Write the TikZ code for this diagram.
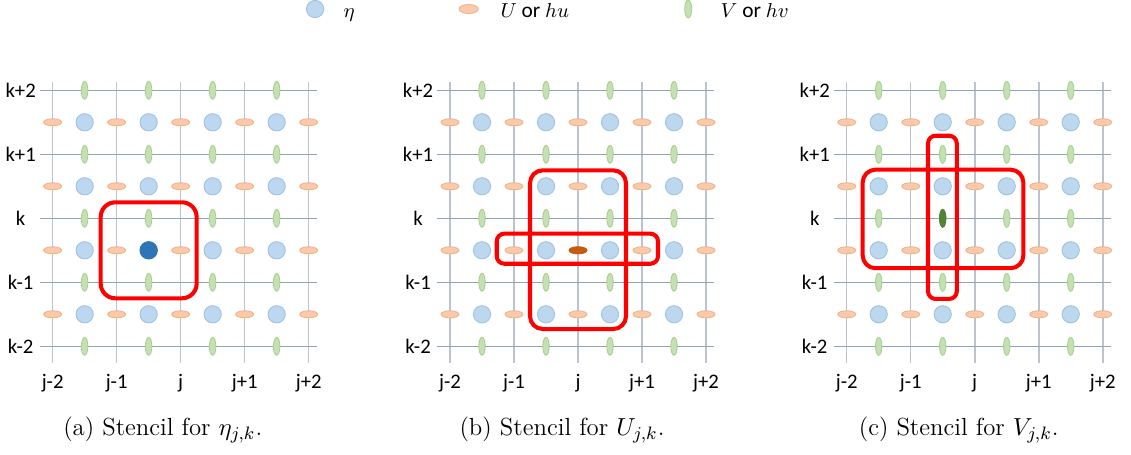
\documentclass[tikz,border=0pt]{standalone}
\usepackage{fontspec}
\newfontfamily\labfont{Carlito}
\definecolor{EtaFill}{HTML}{BDD7EE}
\definecolor{EtaLine}{HTML}{9DC3E6}
\definecolor{EtaDark}{HTML}{2E75B6}
\definecolor{UFill}{HTML}{F8CBAD}
\definecolor{ULine}{HTML}{F4B183}
\definecolor{UDark}{HTML}{C55A11}
\definecolor{VFill}{HTML}{C5E0B4}
\definecolor{VLine}{HTML}{A9D18E}
\definecolor{VDark}{HTML}{548235}
\definecolor{GridV}{HTML}{BCC3CC}
\definecolor{GridH}{HTML}{8FA3BA}
\definecolor{StencilRed}{HTML}{FF0000}
\tikzset{
  etapt/.style={draw=EtaLine, fill=EtaFill, line width=0.4pt},
  upt/.style={draw=ULine, fill=UFill, line width=0.4pt},
  vpt/.style={draw=VLine, fill=VFill, line width=0.4pt},
  gridv/.style={line width=0.7pt, draw=GridV},
  gridh/.style={line width=0.5pt, draw=GridH},
  stencil/.style={line width=1.8pt, draw=StencilRed, rounded corners=2mm},
  idx/.style={font=\labfont\fontsize{9.2}{10}\selectfont, inner sep=0pt},
  capt/.style={font=\fontsize{11}{13}\selectfont, anchor=base, inner sep=0pt},
  leg/.style={font=\labfont\fontsize{9.5}{11}\selectfont, anchor=base west, inner sep=0pt},
}
% staggered grid: eta at cell centres, U on j-lines, V on k-lines
\newcommand{\stencilgrid}[1]{%
  \foreach \x in {0,...,4} {\draw[gridv] (\x,-0.26) -- (\x,4.13);}
  \foreach \y in {0,...,4} {\draw[gridh] (-0.2,\y) -- (4.13,\y);}
  \foreach \x in {0.5,1.5,2.5,3.5} \foreach \y in {0.5,1.5,2.5,3.5} {\draw[etapt] (\x,\y) circle (0.135);}
  \foreach \x in {0,...,4} \foreach \y in {0.5,1.5,2.5,3.5} {\draw[upt] (\x,\y) ellipse (0.14 and 0.055);}
  \foreach \x in {0.5,1.5,2.5,3.5} \foreach \y in {0,...,4} {\draw[vpt] (\x,\y) ellipse (0.05 and 0.14);}
  \foreach \t [count=\i from 0] in {k-2,k-1,k,k+1,k+2} {\node[idx] (#1-k\i) at (-0.5,\i) {\t};}
  \foreach \t [count=\i from 0] in {j-2,j-1,j,j+1,j+2} {\node[idx] (#1-j\i) at (\i,-0.58) {\t};}
}
\begin{document}
\begin{tikzpicture}
\useasboundingbox (-0.823,-1.698) rectangle (16.848,5.411);
% ---------------------------------------------------------------- legend
\draw[etapt] (4.10,5.27) circle (0.135);
\node[leg] (leg-eta) at (4.54,5.13) {$\eta$};
\draw[upt] (6.50,5.27) ellipse (0.15 and 0.07);
\node[leg] (leg-u) at (6.99,5.13) {$U$ or $hu$};
\draw[vpt] (9.93,5.27) ellipse (0.055 and 0.14);
\node[leg] (leg-v) at (10.43,5.13) {$V$ or $hv$};
% ---------------------------------------------------------------- panel (a): eta
\begin{scope}[shift={(0,0)}]
  \stencilgrid{a}
  \draw[etapt, draw=EtaDark, fill=EtaDark] (1.5,1.5) circle (0.135);
  \draw[stencil, rounded corners=2.3mm] (0.75,0.75) rectangle (2.25,2.25);
  \node[capt] (cap-a) at (1.72,-1.386) {(a) Stencil for $\eta_{j,k}$.};
\end{scope}
% ---------------------------------------------------------------- panel (b): U
\begin{scope}[shift={(6.208,0)}]
  \stencilgrid{b}
  \draw[upt, draw=UDark, fill=UDark] (2,1.5) ellipse (0.14 and 0.055);
  \draw[stencil] (1.25,0.27) rectangle (2.75,2.75);
  \draw[stencil, rounded corners=1.2mm] (0.73,1.29) rectangle (3.25,1.76);
  \node[capt] (cap-b) at (1.75,-1.386) {(b) Stencil for $U_{j,k}$.};
\end{scope}
% ---------------------------------------------------------------- panel (c): V
\begin{scope}[shift={(12.406,0)}]
  \stencilgrid{c}
  \draw[vpt, draw=VDark, fill=VDark] (1.5,2) ellipse (0.05 and 0.14);
  \draw[stencil, rounded corners=1.2mm] (1.27,0.74) rectangle (1.72,3.29);
  \draw[stencil] (0.25,1.22) rectangle (2.76,2.76);
  \node[capt] (cap-c) at (1.75,-1.386) {(c) Stencil for $V_{j,k}$.};
\end{scope}
\end{tikzpicture}
\end{document}
